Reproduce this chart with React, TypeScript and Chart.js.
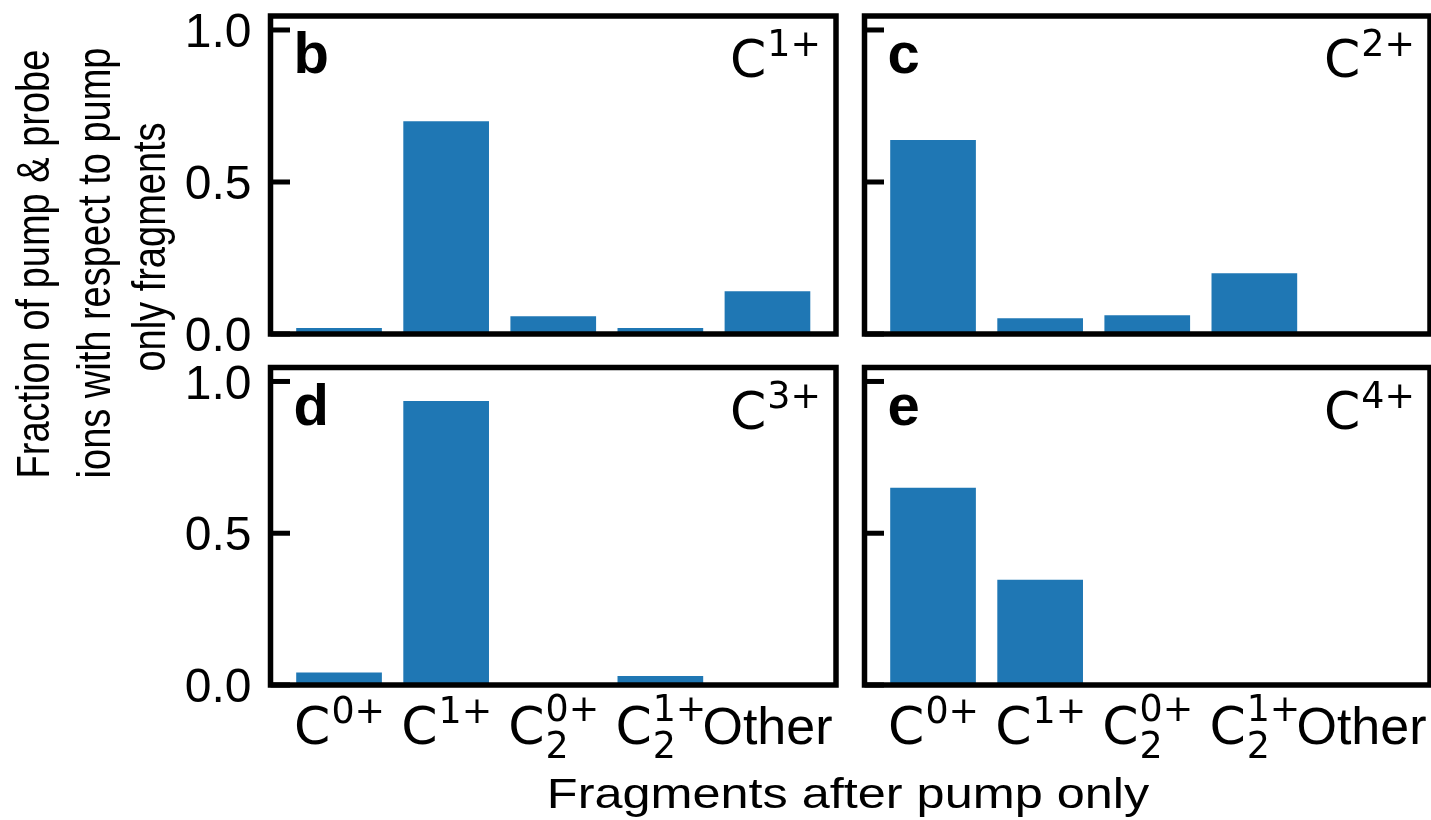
import { useEffect, useRef } from "react";
import { Chart, registerables } from "chart.js";

Chart.register(...registerables);

// Figure size in CSS pixels
const W = 1431;
const H = 820;

// Fragment categories on the x axis: base symbol, subscript and superscript
const tickBase = ["C", "C", "C", "C", "Other"];
const tickSub = ["", "", "2", "2", ""];
const tickSup = ["0+", "1+", "0+", "1+", ""];

// Fraction of pump & probe ions per pump-only fragment, one array per parent ion
const fracC1 = [0.02, 0.7, 0.058, 0.02, 0.141];
const fracC2 = [0.638, 0.052, 0.062, 0.2, 0.0];
const fracC3 = [0.041, 0.936, 0.0, 0.03, 0.0];
const fracC4 = [0.65, 0.347, 0.0, 0.0, 0.0];

const panelLetters = ["b", "c", "d", "e"];
const parentCharges = ["1+", "2+", "3+", "4+"];

const yTickValues = [0.0, 0.5, 1.0];
const yTickLabels = ["0.0", "0.5", "1.0"];

const yTitleLines = ["Fraction of pump & probe", "ions with respect to pump", "only fragments"];
const xTitle = "Fragments after pump only";

const BAR_COLOR = "#1f77b4";
const SANS = '"Liberation Sans", Arial, sans-serif';
const MATH = '"DejaVu Sans", sans-serif';

type Box = { left: number; top: number; right: number; bottom: number };
type PanelCfg = {
  values: number[];
  letter: string;
  charge: string;
  box: Box;
  yLabels: boolean;
  xLabels: boolean;
  yTitle: boolean;
  xTitle: boolean;
};

const LEFT_COL = { left: 270.5, right: 836 };
const RIGHT_COL = { left: 864.5, right: 1430 };
const TOP_ROW = { top: 16, bottom: 334 };
const BOTTOM_ROW = { top: 367.5, bottom: 685 };

const panels: PanelCfg[] = [
  { values: fracC1, letter: panelLetters[0], charge: parentCharges[0], box: { ...LEFT_COL, ...TOP_ROW }, yLabels: true, xLabels: false, yTitle: true, xTitle: false },
  { values: fracC2, letter: panelLetters[1], charge: parentCharges[1], box: { ...RIGHT_COL, ...TOP_ROW }, yLabels: false, xLabels: false, yTitle: false, xTitle: false },
  { values: fracC3, letter: panelLetters[2], charge: parentCharges[2], box: { ...LEFT_COL, ...BOTTOM_ROW }, yLabels: true, xLabels: true, yTitle: false, xTitle: true },
  { values: fracC4, letter: panelLetters[3], charge: parentCharges[3], box: { ...RIGHT_COL, ...BOTTOM_ROW }, yLabels: false, xLabels: true, yTitle: false, xTitle: false },
];

// Draws "base_sub^sup" the way TeX-style math labels are laid out
function drawMath(
  ctx: CanvasRenderingContext2D,
  base: string,
  sub: string,
  sup: string,
  x: number,
  baseline: number,
  size: number,
  align: "center" | "right"
) {
  const plain = !sub && !sup;
  const baseFont = `${size}px ${plain ? SANS : MATH}`;
  const scriptSize = size * 0.7;
  const scriptFont = `${scriptSize}px ${MATH}`;
  ctx.font = baseFont;
  const wb = ctx.measureText(base).width;
  ctx.font = scriptFont;
  const wsub = sub ? ctx.measureText(sub).width : 0;
  const wsup = sup ? ctx.measureText(sup).width : 0;
  const total = wb + Math.max(wsub, wsup);
  const x0 = align === "center" ? x - total / 2 : x - total;
  ctx.textAlign = "left";
  ctx.textBaseline = "alphabetic";
  ctx.font = baseFont;
  ctx.fillText(base, x0, baseline);
  ctx.font = scriptFont;
  if (sup) ctx.fillText(sup, x0 + wb + 1, baseline - size * (sub ? 0.44 : 0.4));
  if (sub) ctx.fillText(sub, x0 + wb + 1, baseline + size * 0.27);
}

function makeDecor(cfg: PanelCfg) {
  return {
    id: "panelDecor",
    afterDatasetsDraw(chart: Chart) {
      const ctx = chart.ctx;
      const { left, top, right, bottom } = chart.chartArea;
      const xs = chart.scales.x;
      const ys = chart.scales.y;
      ctx.save();
      ctx.fillStyle = "#000";
      ctx.strokeStyle = "#000";

      // frame
      ctx.lineWidth = 5.5;
      ctx.strokeRect(left, top, right - left, bottom - top);

      // inward y ticks
      ctx.lineWidth = 5;
      ctx.lineCap = "butt";
      yTickValues.forEach((v) => {
        const y = ys.getPixelForValue(v);
        ctx.beginPath();
        ctx.moveTo(left, y);
        ctx.lineTo(left + 19.5, y);
        ctx.stroke();
      });

      // y tick labels
      if (cfg.yLabels) {
        const fs = 48;
        ctx.font = `${fs}px ${SANS}`;
        ctx.textAlign = "right";
        ctx.textBaseline = "alphabetic";
        yTickValues.forEach((v, i) => {
          const y = ys.getPixelForValue(v);
          ctx.fillText(yTickLabels[i], left - 19, y + fs * 0.716 / 2);
        });
      }

      // x tick labels
      if (cfg.xLabels) {
        tickBase.forEach((b, i) => {
          const x = xs.getPixelForValue(i);
          drawMath(ctx, b, tickSub[i], tickSup[i], x, bottom + 59, 52, "center");
        });
      }

      // panel letter
      ctx.font = `bold 58px ${SANS}`;
      ctx.textAlign = "left";
      ctx.textBaseline = "alphabetic";
      ctx.fillText(cfg.letter, left + 23, top + 57);

      // parent ion label
      drawMath(ctx, "C", "", cfg.charge, right - 16, top + 61, 52, "right");

      // shared y title
      if (cfg.yTitle) {
        const fs = 38;
        const centers = [264, 263, 247];
        const baselines = [49, 110, 165];
        yTitleLines.forEach((line, i) => {
          ctx.save();
          ctx.translate(baselines[i], centers[i]);
          ctx.rotate(-Math.PI / 2);
          ctx.scale(1, 1.22);
          ctx.font = `${fs}px ${SANS}`;
          ctx.textAlign = "center";
          ctx.textBaseline = "alphabetic";
          ctx.fillText(line, 0, 0);
          ctx.restore();
        });
      }

      // shared x title
      if (cfg.xTitle) {
        ctx.save();
        ctx.translate(848, 808);
        ctx.scale(1.2, 1);
        ctx.font = `42px ${SANS}`;
        ctx.textAlign = "center";
        ctx.textBaseline = "alphabetic";
        ctx.fillText(xTitle, 0, 0);
        ctx.restore();
      }

      ctx.restore();
    },
  };
}

function Panel({ cfg }: { cfg: PanelCfg }) {
  const ref = useRef<HTMLCanvasElement>(null);
  useEffect(() => {
    if (!ref.current) return;
    const { box } = cfg;
    const chart = new Chart(ref.current, {
      type: "bar",
      data: {
        datasets: [
          {
            data: cfg.values.map((v, i) => ({ x: i, y: v })),
            backgroundColor: BAR_COLOR,
            borderWidth: 0,
            barPercentage: 0.8,
            categoryPercentage: 1,
          },
        ],
      },
      options: {
        responsive: false,
        animation: false,
        devicePixelRatio: 1,
        events: [],
        layout: {
          padding: { left: box.left, top: box.top, right: W - box.right, bottom: H - box.bottom },
        },
        plugins: { legend: { display: false }, tooltip: { enabled: false } },
        scales: {
          x: {
            type: "linear",
            display: false,
            offset: false,
            min: -0.64,
            max: 4.64,
            ticks: { stepSize: 1, includeBounds: false },
          },
          y: { type: "linear", display: false, min: 0, max: 1.046 },
        },
      },
      plugins: [makeDecor(cfg)],
    } as any);
    return () => chart.destroy();
  }, [cfg]);
  return (
    <canvas
      ref={ref}
      width={W}
      height={H}
      style={{ position: "absolute", left: 0, top: 0, width: W, height: H }}
    />
  );
}

export default function App() {
  return (
    <div style={{ position: "absolute", left: 0, top: 0, width: W, height: H, overflow: "hidden", background: "#fff" }}>
      {panels.map((p) => (
        <Panel key={p.letter} cfg={p} />
      ))}
    </div>
  );
}
